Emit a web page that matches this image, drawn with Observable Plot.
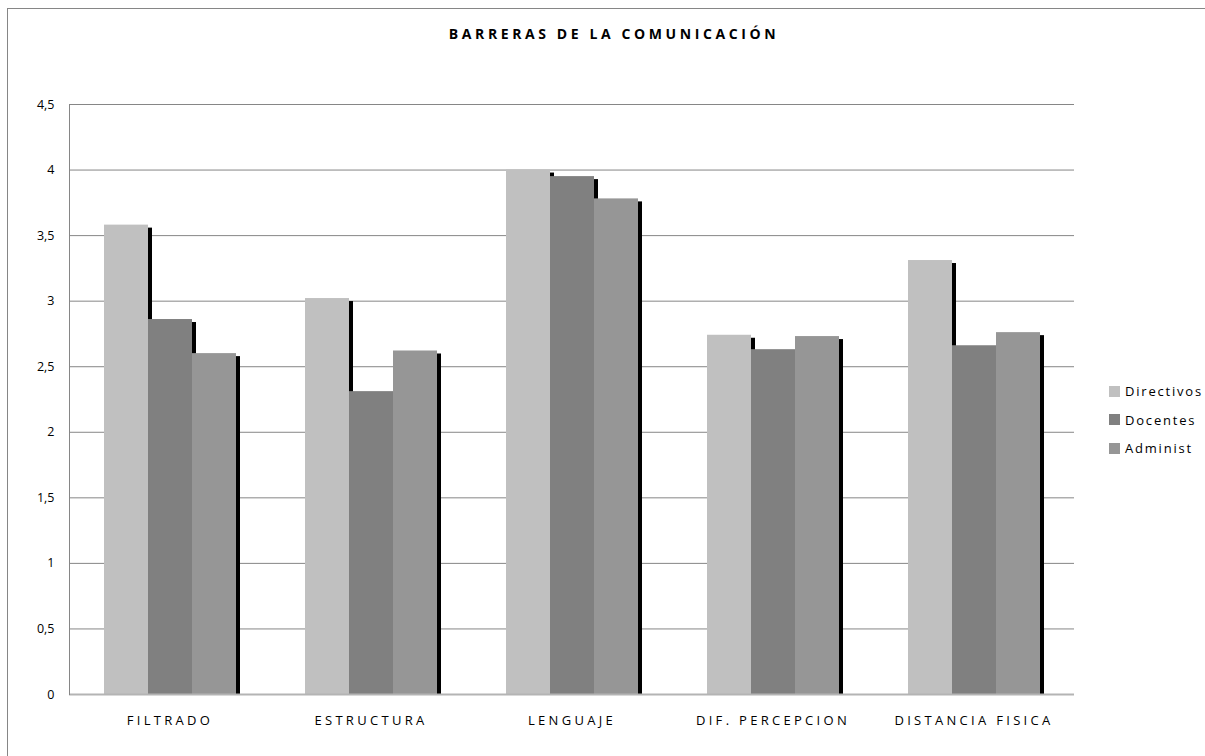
<!DOCTYPE html>
<html>
<head>
<meta charset="utf-8">
<script src="https://cdn.jsdelivr.net/npm/d3@7"></script>
<script src="https://cdn.jsdelivr.net/npm/@observablehq/plot@0.6"></script>
<style>
  html, body { margin: 0; padding: 0; background: #fff; overflow: hidden; }
  #wrap { position: relative; width: 1205px; height: 756px; overflow: hidden; font-family: "Open Sans", sans-serif; }
  #frame { position: absolute; left: 7px; top: 8px; width: 1400px; height: 900px; border: 1px solid #868686; }
  #title { position: absolute; left: 0; width: 1228px; top: 24px; text-align: center; font-weight: bold; font-size: 14px; letter-spacing: 3.6px; color: #000; }
  #chart { position: absolute; left: 0; top: 0; }
  #legend { position: absolute; left: 1109px; top: 377px; font-size: 13px; letter-spacing: 1.8px; color: #000; }
  .li { display: flex; align-items: center; height: 28.5px; }
  .sw { width: 11px; height: 11px; margin-right: 5px; }
  [aria-label="fx-axis tick label"] text { letter-spacing: 3.3px; }
</style>
</head>
<body>
<div id="wrap">
  <div id="frame"></div>
  <div id="chart"></div>
  <div id="title">BARRERAS DE LA COMUNICACIÓN</div>
  <div id="legend"></div>
</div>
<script>
const categories = ["FILTRADO", "ESTRUCTURA", "LENGUAJE", "DIF. PERCEPCION", "DISTANCIA FISICA"];
const series = ["Directivos", "Docentes", "Administ"];
const directivos = [3.58, 3.02, 4.00, 2.74, 3.31];
const docentes = [2.86, 2.31, 3.95, 2.63, 2.66];
const administ = [2.60, 2.62, 3.78, 2.73, 2.76];
const colors = ["#c0c0c0", "#808080", "#969696"];
const yTicks = [0, 0.5, 1, 1.5, 2, 2.5, 3, 3.5, 4, 4.5];

const values = [directivos, docentes, administ];
const data = [];
categories.forEach((c, i) => {
  series.forEach((s, j) => data.push({category: c, serie: s, value: values[j][i]}));
});

const chart = Plot.plot({
  width: 1205,
  height: 756,
  marginLeft: 68,
  marginRight: 130,
  marginTop: 104,
  marginBottom: 62,
  style: {fontFamily: "'Open Sans', sans-serif", fontSize: "12px", color: "#000", background: "transparent"},
  fx: {domain: categories, padding: 0, label: null},
  x: {domain: series, paddingInner: 0, paddingOuter: 0.753, axis: null},
  y: {domain: [0, 4.5], ticks: yTicks, label: null},
  color: {domain: series, range: colors},
  marks: [
    Plot.gridY(yTicks.filter(d => d > 0), {stroke: "#868686", strokeOpacity: 1, strokeWidth: 1}),
    Plot.axisY({ticks: yTicks, tickSize: 0, tickPadding: 15, tickFormat: d => String(d).replace(".", ","), label: null, fontSize: 12.5}),
    Plot.axisFx({anchor: "bottom", tickSize: 0, tickPadding: 21, label: null, fontSize: 13}),
    Plot.rectY(data, {fx: "category", x: "serie", y: "value", fill: "#000", dx: 4, insetTop: 3}),
    Plot.rectY(data, {fx: "category", x: "serie", y: "value", fill: "serie"}),
    Plot.ruleY([0], {stroke: "#b4b4b4", strokeWidth: 2}),
    Plot.frame({anchor: "left", stroke: "#868686", facet: "super"})
  ]
});
document.getElementById("chart").appendChild(chart);

const legend = document.getElementById("legend");
series.forEach((s, i) => {
  const row = document.createElement("div");
  row.className = "li";
  const sw = document.createElement("span");
  sw.className = "sw";
  sw.style.background = colors[i];
  const t = document.createElement("span");
  t.textContent = s;
  row.appendChild(sw);
  row.appendChild(t);
  legend.appendChild(row);
});
</script>
</body>
</html>
